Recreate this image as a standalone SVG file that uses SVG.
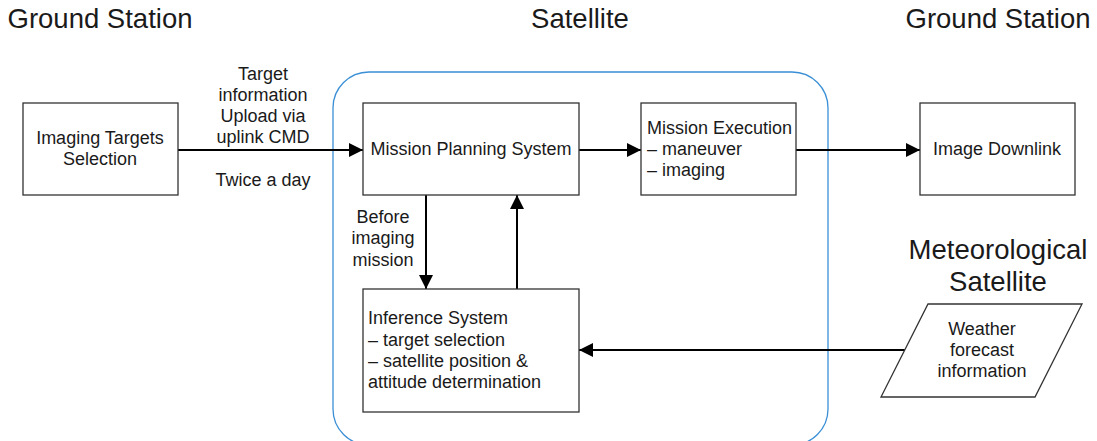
<svg xmlns="http://www.w3.org/2000/svg" width="1097" height="441" viewBox="0 0 1097 441">
<defs>
<marker id="ah" viewBox="0 0 10 10" refX="10" refY="5" markerWidth="14" markerHeight="14" markerUnits="userSpaceOnUse" orient="auto">
<path d="M0,0 L10,5 L0,10 z" fill="#000"/>
</marker>
<style>
.box{fill:#fff;stroke:#333;stroke-width:1.3}
.t{font-family:"Liberation Sans",Arial,sans-serif;font-size:18px;fill:#1a1a1a}
.h{font-family:"Liberation Sans",Arial,sans-serif;font-size:27.5px;fill:#1a1a1a}
.c{stroke:#000;stroke-width:2;fill:none}
</style>
</defs>
<rect width="1097" height="441" fill="#fff"/>
<rect x="333" y="72" width="495" height="373" rx="36" fill="none" stroke="#3a8fd6" stroke-width="1.3"/>
<g id="titles">
<text class="h" x="100" y="28" text-anchor="middle">Ground Station</text>
<text class="h" x="580" y="28" text-anchor="middle">Satellite</text>
<text class="h" x="998" y="28" text-anchor="middle">Ground Station</text>
<text class="h" x="998" y="259" text-anchor="middle">Meteorological</text>
<text class="h" x="998" y="291" text-anchor="middle">Satellite</text>
</g>
<g id="connectors">
<line class="c" x1="178" y1="150" x2="363" y2="150" marker-end="url(#ah)"/>
<line class="c" x1="579" y1="150" x2="641" y2="150" marker-end="url(#ah)"/>
<line class="c" x1="796" y1="150" x2="920" y2="150" marker-end="url(#ah)"/>
<line class="c" x1="426" y1="195" x2="426" y2="289" marker-end="url(#ah)"/>
<line class="c" x1="517" y1="289" x2="517" y2="195" marker-end="url(#ah)"/>
<line class="c" x1="905" y1="350" x2="579" y2="350" marker-end="url(#ah)"/>
<text class="t" x="263" y="80" text-anchor="middle">Target</text>
<text class="t" x="263" y="101" text-anchor="middle">information</text>
<text class="t" x="263" y="122" text-anchor="middle">Upload via</text>
<text class="t" x="263" y="143" text-anchor="middle">uplink CMD</text>
<text class="t" x="263" y="186" text-anchor="middle">Twice a day</text>
<text class="t" x="383" y="223" text-anchor="middle">Before</text>
<text class="t" x="383" y="244" text-anchor="middle">imaging</text>
<text class="t" x="383" y="266" text-anchor="middle">mission</text>
</g>
<g id="imaging-targets">
<rect class="box" x="23" y="103" width="155" height="92"/>
<text class="t" x="100" y="144" text-anchor="middle">Imaging Targets</text>
<text class="t" x="100" y="165" text-anchor="middle">Selection</text>
</g>
<g id="mission-planning">
<rect class="box" x="363" y="103" width="216" height="92"/>
<text class="t" x="471" y="155" text-anchor="middle">Mission Planning System</text>
</g>
<g id="mission-execution">
<rect class="box" x="641" y="103" width="155" height="92"/>
<text class="t" x="647" y="134">Mission Execution</text>
<text class="t" x="647" y="155">– maneuver</text>
<text class="t" x="647" y="176">– imaging</text>
</g>
<g id="image-downlink">
<rect class="box" x="920" y="103" width="155" height="92"/>
<text class="t" x="997" y="155" text-anchor="middle">Image Downlink</text>
</g>
<g id="inference-system">
<rect class="box" x="363" y="289" width="216" height="123"/>
<text class="t" x="368" y="324">Inference System</text>
<text class="t" x="368" y="346">– target selection</text>
<text class="t" x="368" y="367">– satellite position &amp;</text>
<text class="t" x="368" y="388">attitude determination</text>
</g>
<g id="weather">
<polygon class="box" points="928,304 1082,304 1035,397 881,397"/>
<text class="t" x="982" y="335" text-anchor="middle">Weather</text>
<text class="t" x="982" y="356" text-anchor="middle">forecast</text>
<text class="t" x="982" y="377" text-anchor="middle">information</text>
</g>
</svg>
